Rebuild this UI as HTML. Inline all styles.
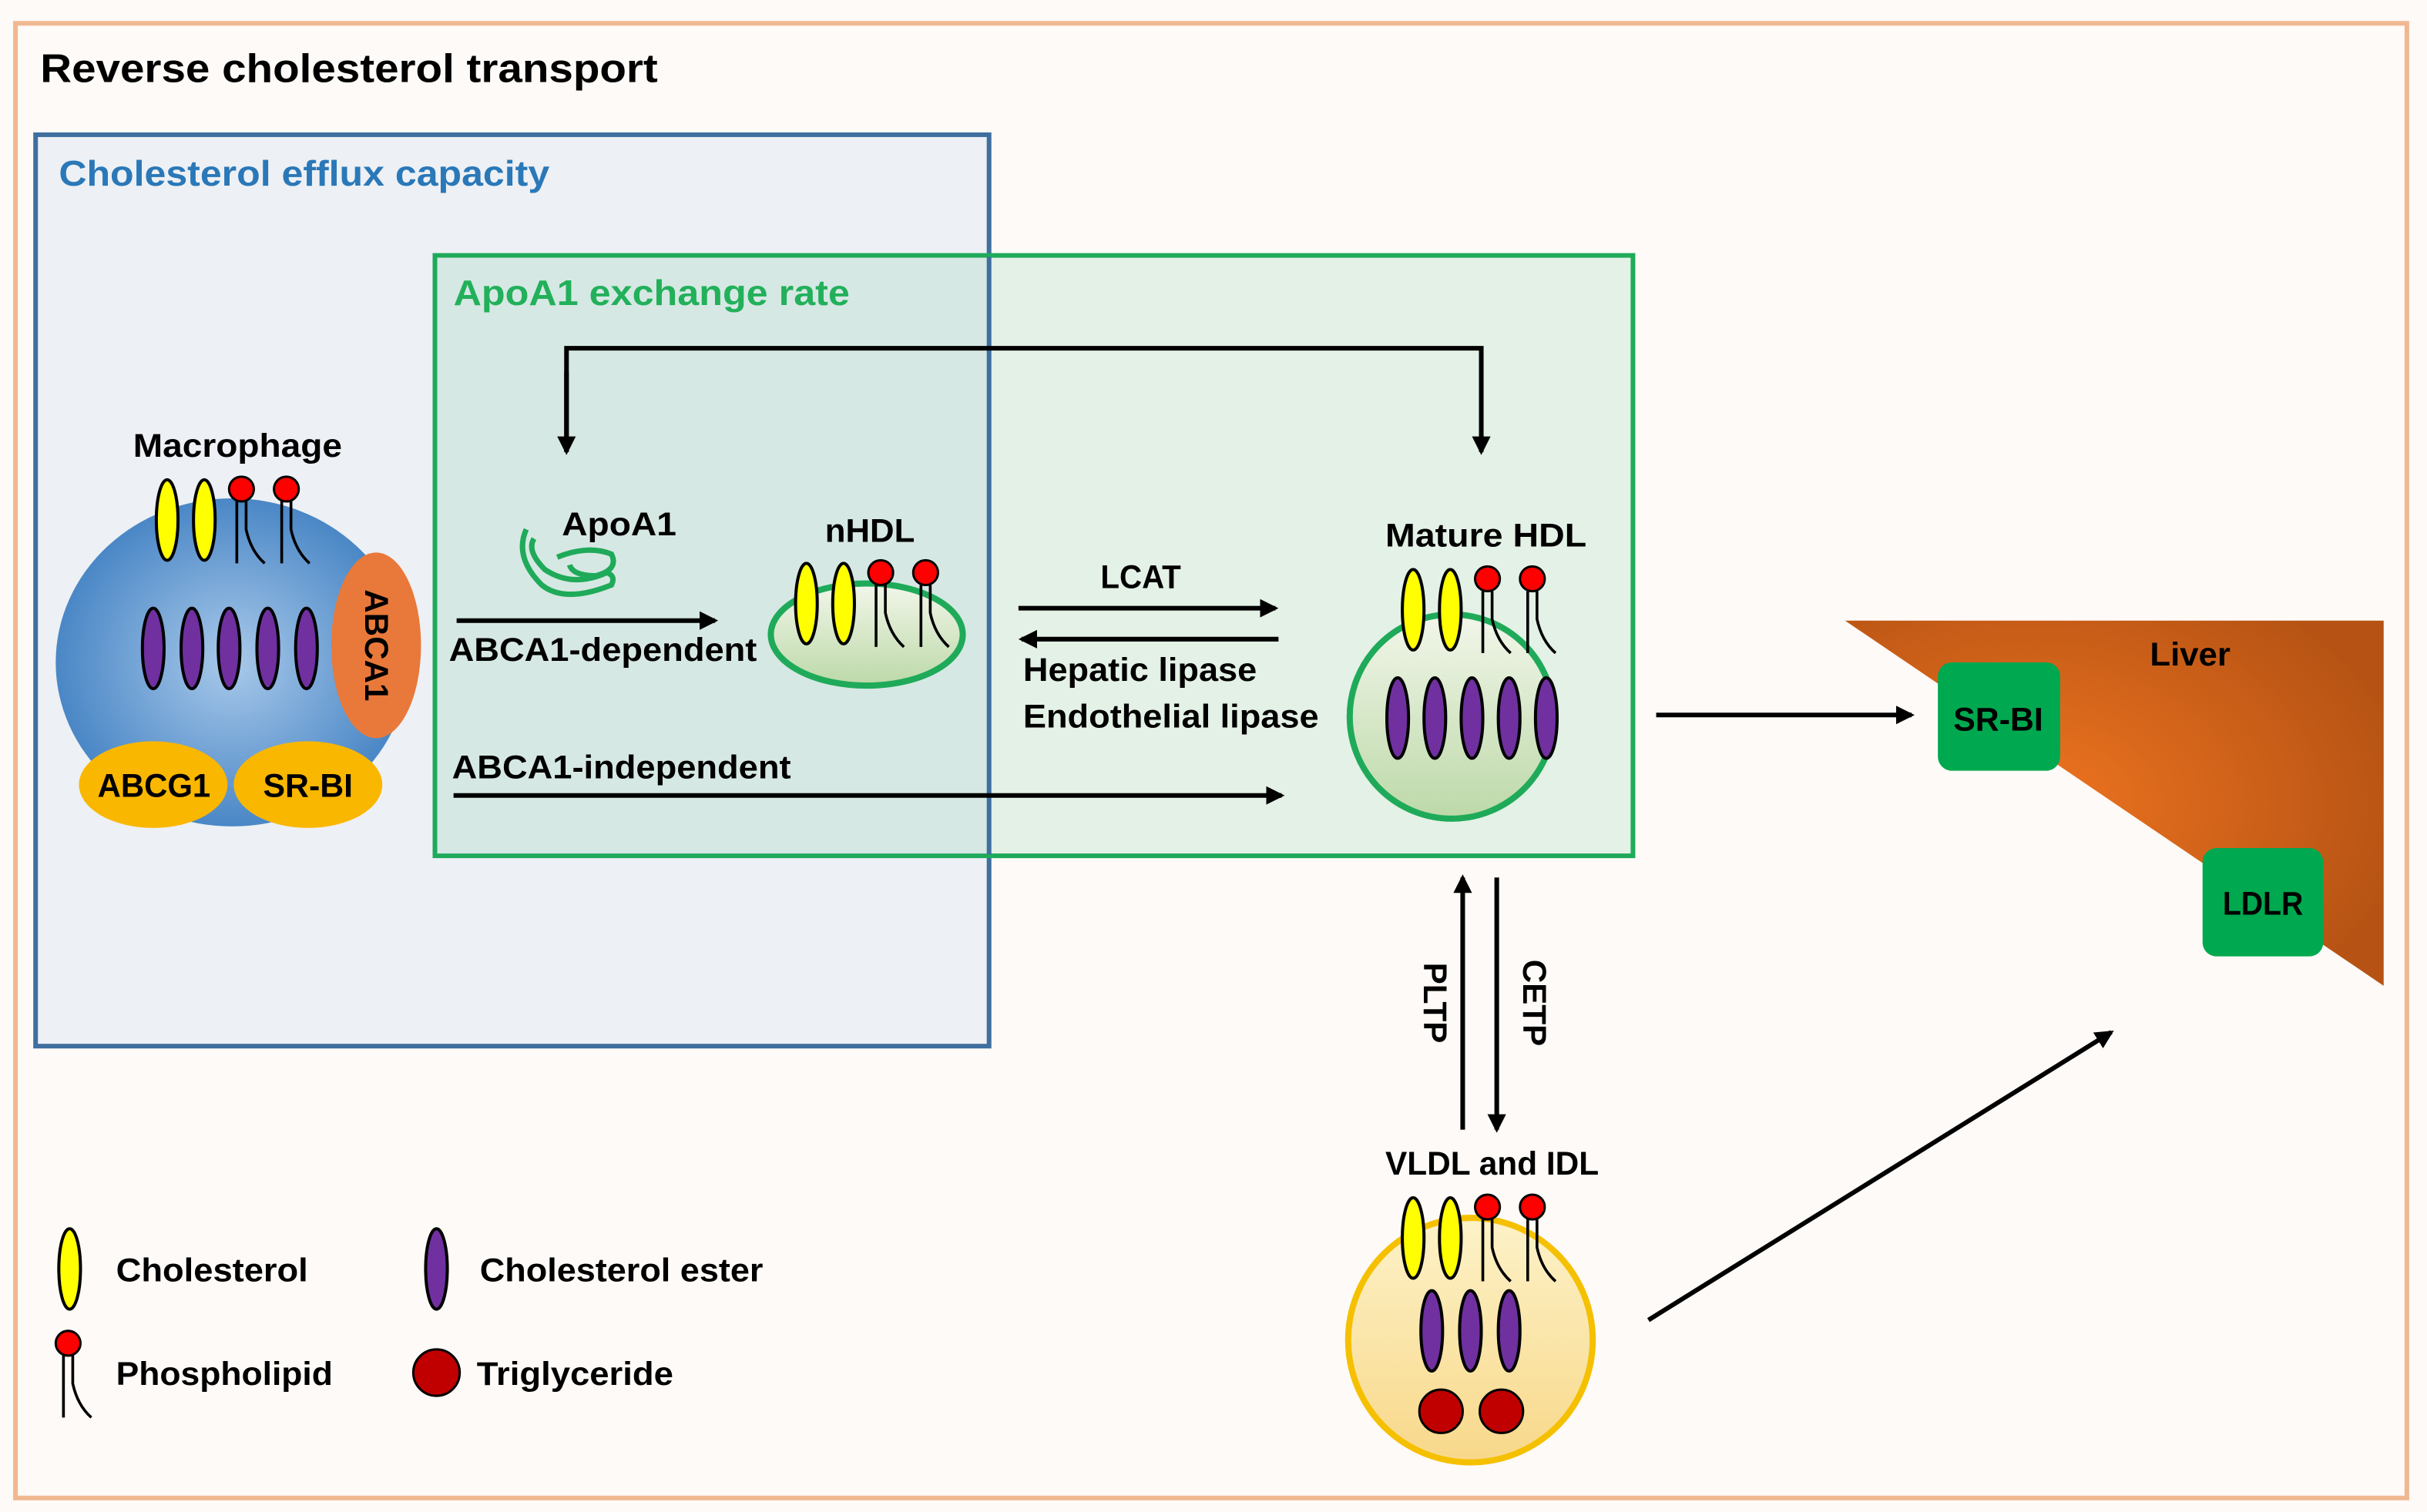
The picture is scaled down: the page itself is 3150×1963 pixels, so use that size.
<!DOCTYPE html>
<html><head><meta charset="utf-8"><style>html,body{margin:0;padding:0;background:#fdfaf7}svg{display:block}</style></head><body>
<svg width="3150" height="1963" viewBox="0 0 1568 977" xmlns="http://www.w3.org/2000/svg" font-family="Liberation Sans, sans-serif" font-weight="bold">
<defs>
<radialGradient id="mac" cx="0.5" cy="0.5" r="0.5"><stop offset="0" stop-color="#a9c9ea"/><stop offset="1" stop-color="#4a87c6"/></radialGradient>
<linearGradient id="hdl" x1="0" y1="0" x2="0" y2="1"><stop offset="0" stop-color="#f2f6ea"/><stop offset="1" stop-color="#bcd9a8"/></linearGradient>
<linearGradient id="vl" x1="0" y1="0" x2="0" y2="1"><stop offset="0" stop-color="#fdf2c8"/><stop offset="1" stop-color="#f8d88a"/></linearGradient>
<radialGradient id="liv" cx="0.35" cy="0.5" r="0.7"><stop offset="0" stop-color="#ee7420"/><stop offset="1" stop-color="#b65314"/></radialGradient>
<marker id="ahb" markerWidth="12" markerHeight="12" refX="10" refY="6" orient="auto" markerUnits="userSpaceOnUse"><path d="M0,0 L12,6 L0,12 z" fill="#000"/></marker>
<g id="chol"><ellipse cx="0" cy="0" rx="7" ry="26" fill="#ffff00" stroke="#000" stroke-width="2"/></g>
<g id="ce"><ellipse cx="0" cy="0" rx="7" ry="26" fill="#7030a0" stroke="#000" stroke-width="2"/></g>
<g id="pl"><path d="M-3,8 L-3,48 M3,8 L3,26 Q6,40 15,48" fill="none" stroke="#000" stroke-width="1.8"/><circle cx="0" cy="0" r="8" fill="#ff0000" stroke="#000" stroke-width="1.5"/></g>
<g id="lip"><use href="#chol" x="0" y="20"/><use href="#chol" x="24" y="20"/><use href="#pl" x="48" y="0"/><use href="#pl" x="77" y="0"/></g>
</defs>
<rect x="10" y="15" width="1545" height="953" fill="#fdfaf7" stroke="#f0b890" stroke-width="3"/>
<text x="26" y="53" font-size="26" textLength="399" lengthAdjust="spacingAndGlyphs">Reverse cholesterol transport</text>
<rect x="23" y="87" width="616" height="589" fill="#edf0f4" stroke="#3f6f9f" stroke-width="3"/>
<text x="38" y="120" font-size="23" fill="#2a78b8" textLength="317" lengthAdjust="spacingAndGlyphs">Cholesterol  efflux capacity</text>
<rect x="281" y="165" width="774" height="388" fill="#e4f1e6" stroke="#1faa5a" stroke-width="3"/>
<rect x="282.5" y="166.5" width="355" height="385" fill="#d6e8e3"/>
<line x1="639" y1="166" x2="639" y2="552" stroke="#3f6f9f" stroke-width="3"/>
<text x="293" y="197" font-size="23" fill="#22b05a" textLength="256" lengthAdjust="spacingAndGlyphs">ApoA1  exchange rate</text>
<path d="M366,292 L366,225 L957,225 L957,292" fill="none" stroke="#000" stroke-width="3" marker-end="url(#ahb)"/>
<path d="M366,240 L366,292" fill="none" stroke="#000" stroke-width="3" marker-end="url(#ahb)"/>
<text x="86" y="295" font-size="21" textLength="135" lengthAdjust="spacingAndGlyphs">Macrophage</text>
<ellipse cx="150" cy="428" rx="114" ry="106" fill="url(#mac)"/>
<use href="#lip" x="108" y="316"/>
<use href="#ce" x="99" y="419"/><use href="#ce" x="124" y="419"/><use href="#ce" x="148" y="419"/><use href="#ce" x="173" y="419"/><use href="#ce" x="198" y="419"/>
<ellipse cx="243" cy="417" rx="29" ry="60" fill="#e8793a"/>
<text x="0" y="0" font-size="21" transform="translate(236,417) rotate(90)" text-anchor="middle">ABCA1</text>
<ellipse cx="99" cy="507" rx="48" ry="28" fill="#fab700"/>
<ellipse cx="199" cy="507" rx="48" ry="28" fill="#fab700"/>
<text x="63" y="515" font-size="21" textLength="73" lengthAdjust="spacingAndGlyphs">ABCG1</text>
<text x="170" y="515" font-size="21" textLength="58" lengthAdjust="spacingAndGlyphs">SR-BI</text>
<path d="M340,342 Q332,360 350,378 Q365,390 395,378 Q398,372 392,370 Q370,380 352,368 Q340,356 345,348 M360,360 Q380,352 395,358 Q400,368 385,372 Q370,372 368,365" fill="none" stroke="#1faa5a" stroke-width="3.5"/>
<text x="363" y="346" font-size="21" textLength="74" lengthAdjust="spacingAndGlyphs">ApoA1</text>
<line x1="295" y1="401" x2="462" y2="401" stroke="#000" stroke-width="3" marker-end="url(#ahb)"/>
<text x="290" y="427" font-size="21" textLength="199" lengthAdjust="spacingAndGlyphs">ABCA1-dependent</text>
<text x="533" y="350" font-size="21" textLength="58" lengthAdjust="spacingAndGlyphs">nHDL</text>
<ellipse cx="560" cy="410" rx="62" ry="33" fill="url(#hdl)" stroke="#1faa5a" stroke-width="4"/>
<use href="#lip" x="521" y="370"/>
<text x="711" y="380" font-size="21" textLength="52" lengthAdjust="spacingAndGlyphs">LCAT</text>
<line x1="658" y1="393" x2="824" y2="393" stroke="#000" stroke-width="3" marker-end="url(#ahb)"/>
<line x1="826" y1="413" x2="660" y2="413" stroke="#000" stroke-width="3" marker-end="url(#ahb)"/>
<text x="661" y="440" font-size="21" textLength="151" lengthAdjust="spacingAndGlyphs">Hepatic lipase</text>
<text x="661" y="470" font-size="21" textLength="191" lengthAdjust="spacingAndGlyphs">Endothelial lipase</text>
<text x="292" y="503" font-size="21" textLength="219" lengthAdjust="spacingAndGlyphs">ABCA1-independent</text>
<line x1="293" y1="514" x2="828" y2="514" stroke="#000" stroke-width="3" marker-end="url(#ahb)"/>
<text x="895" y="353" font-size="21" textLength="130" lengthAdjust="spacingAndGlyphs">Mature HDL</text>
<circle cx="938" cy="463" r="66" fill="url(#hdl)" stroke="#1faa5a" stroke-width="4"/>
<use href="#lip" x="913" y="374"/>
<use href="#ce" x="903" y="464"/><use href="#ce" x="927" y="464"/><use href="#ce" x="951" y="464"/><use href="#ce" x="975" y="464"/><use href="#ce" x="999" y="464"/>
<line x1="1070" y1="462" x2="1235" y2="462" stroke="#000" stroke-width="3" marker-end="url(#ahb)"/>
<polygon points="1192,401 1540,401 1540,637" fill="url(#liv)"/>
<text x="1389" y="430" font-size="21" textLength="52" lengthAdjust="spacingAndGlyphs">Liver</text>
<rect x="1252" y="428" width="79" height="70" rx="9" fill="#00a84f"/>
<text x="1262" y="472" font-size="21" textLength="58" lengthAdjust="spacingAndGlyphs">SR-BI</text>
<rect x="1423" y="548" width="78" height="70" rx="9" fill="#00a84f"/>
<text x="1436" y="591" font-size="21" textLength="52" lengthAdjust="spacingAndGlyphs">LDLR</text>
<line x1="945" y1="730" x2="945" y2="567" stroke="#000" stroke-width="3" marker-end="url(#ahb)"/>
<line x1="967" y1="567" x2="967" y2="730" stroke="#000" stroke-width="3" marker-end="url(#ahb)"/>
<text font-size="21" text-anchor="middle" transform="translate(920,648) rotate(90)">PLTP</text>
<text font-size="21" text-anchor="middle" transform="translate(984,648) rotate(90)">CETP</text>
<text x="895" y="759" font-size="21" textLength="138" lengthAdjust="spacingAndGlyphs">VLDL and IDL</text>
<circle cx="950" cy="866" r="79" fill="url(#vl)" stroke="#f5c000" stroke-width="4"/>
<use href="#lip" x="913" y="780"/>
<use href="#ce" x="925" y="860"/><use href="#ce" x="950" y="860"/><use href="#ce" x="975" y="860"/>
<circle cx="931" cy="912" r="14" fill="#c00000" stroke="#000" stroke-width="1.5"/>
<circle cx="970" cy="912" r="14" fill="#c00000" stroke="#000" stroke-width="1.5"/>
<line x1="1065" y1="853" x2="1364" y2="667" stroke="#000" stroke-width="3" marker-end="url(#ahb)"/>
<use href="#chol" x="45" y="820"/>
<text x="75" y="828" font-size="21" textLength="124" lengthAdjust="spacingAndGlyphs">Cholesterol</text>
<use href="#ce" x="282" y="820"/>
<text x="310" y="828" font-size="21" textLength="183" lengthAdjust="spacingAndGlyphs">Cholesterol ester</text>
<use href="#pl" x="44" y="868"/>
<text x="75" y="895" font-size="21" textLength="140" lengthAdjust="spacingAndGlyphs">Phospholipid</text>
<circle cx="282" cy="887" r="15" fill="#c00000" stroke="#000" stroke-width="1.5"/>
<text x="308" y="895" font-size="21" textLength="127" lengthAdjust="spacingAndGlyphs">Triglyceride</text>
</svg>
</body></html>
